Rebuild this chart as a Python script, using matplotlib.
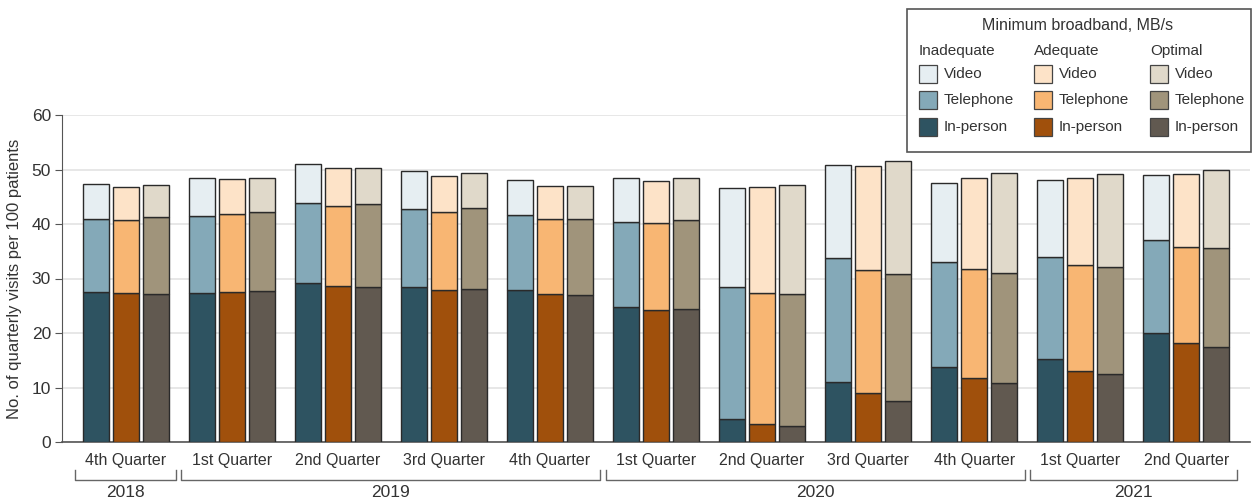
import matplotlib
matplotlib.use("Agg")
import matplotlib.pyplot as plt
from matplotlib.patches import Rectangle
import numpy as np

plt.rcParams['font.family'] = ['Liberation Sans', 'DejaVu Sans']

quarters = ["4th Quarter", "1st Quarter", "2nd Quarter", "3rd Quarter", "4th Quarter",
            "1st Quarter", "2nd Quarter", "3rd Quarter", "4th Quarter",
            "1st Quarter", "2nd Quarter"]
years = ["2018", "2019", "2020", "2021"]
year_counts = [1, 4, 4, 2]

levels = ["Inadequate", "Adequate", "Optimal"]
modes = ["Video", "Telephone", "In-person"]

# cumulative tops: in-person, in-person+telephone, total (incl. video)
inadequate_inperson = [27.5, 27.4, 29.1, 28.4, 27.8, 24.7, 4.2, 11.1, 13.8, 15.3, 20.0]
inadequate_tel_top  = [40.9, 41.5, 43.8, 42.7, 41.6, 40.3, 28.5, 33.8, 33.1, 34.0, 37.0]
inadequate_total    = [47.4, 48.4, 51.1, 49.8, 48.1, 48.4, 46.6, 50.8, 47.5, 48.0, 48.9]

adequate_inperson = [27.3, 27.5, 28.6, 27.9, 27.2, 24.3, 3.3, 8.9, 11.8, 13.0, 18.2]
adequate_tel_top  = [40.8, 41.8, 43.3, 42.2, 40.9, 40.1, 27.4, 31.5, 31.7, 32.4, 35.7]
adequate_total    = [46.8, 48.2, 50.2, 48.8, 46.9, 47.9, 46.8, 50.7, 48.5, 48.5, 49.1]

optimal_inperson = [27.1, 27.7, 28.5, 28.0, 27.0, 24.4, 2.9, 7.6, 10.8, 12.4, 17.5]
optimal_tel_top  = [41.3, 42.2, 43.6, 42.9, 41.0, 40.7, 27.2, 30.8, 31.1, 32.1, 35.6]
optimal_total    = [47.1, 48.5, 50.3, 49.4, 46.9, 48.5, 47.1, 51.5, 49.3, 49.2, 50.0]

data = {
    "Inadequate": (inadequate_inperson, inadequate_tel_top, inadequate_total),
    "Adequate": (adequate_inperson, adequate_tel_top, adequate_total),
    "Optimal": (optimal_inperson, optimal_tel_top, optimal_total),
}

colors = {
    "Inadequate": {"Video": "#e6eef2", "Telephone": "#84a9b8", "In-person": "#2e5361"},
    "Adequate": {"Video": "#fde3c8", "Telephone": "#f8b673", "In-person": "#a0500c"},
    "Optimal": {"Video": "#e0d9ca", "Telephone": "#a0947b", "In-person": "#615950"},
}

W, H = 1252, 501
fig = plt.figure(figsize=(W / 100, H / 100), dpi=100)
ax = fig.add_axes([62 / W, 1 - 442 / H, (1250 - 62) / W, (442 - 115) / H])

x = np.arange(len(quarters))
bw = 0.245
offsets = [-0.283, 0.0, 0.283]
edge = "#2a2a2a"
lw = 1.0

for lvl, off in zip(levels, offsets):
    inp, tel, tot = [np.array(a) for a in data[lvl]]
    c = colors[lvl]
    ax.bar(x + off, inp, bw, color=c["In-person"], edgecolor=edge, linewidth=lw, zorder=3)
    ax.bar(x + off, tel - inp, bw, bottom=inp, color=c["Telephone"], edgecolor=edge, linewidth=lw, zorder=3)
    ax.bar(x + off, tot - tel, bw, bottom=tel, color=c["Video"], edgecolor=edge, linewidth=lw, zorder=3)

ax.set_xlim(-0.6, 10.6)
ax.set_ylim(0, 60)
ax.set_yticks(np.arange(0, 61, 10))
ax.yaxis.grid(True, color="#e3e3e3", linewidth=1.2, zorder=0)
ax.set_axisbelow(True)
for s in ["top", "right"]:
    ax.spines[s].set_visible(False)
ax.spines["left"].set_color("#555555")
ax.spines["bottom"].set_color("#555555")
ax.spines["bottom"].set_linewidth(1.2)
ax.tick_params(axis="y", length=5, color="#555555", labelsize=12.5, labelcolor="#333333", pad=3)
ax.set_xticks(x)
ax.set_xticklabels(quarters, fontsize=11.5, color="#333333")
ax.tick_params(axis="x", length=0, pad=8)
ax.set_ylabel("No. of quarterly visits per 100 patients", fontsize=12, color="#333333", labelpad=7)

# year brackets
trans = ax.get_xaxis_transform()
start = 0
for yr, n in zip(years, year_counts):
    x0 = start - 0.475
    x1 = min(start + n - 1 + 0.475, 10.57)
    yb = -0.115
    yt = -0.085
    ax.plot([x0, x0, x1, x1], [yt, yb, yb, yt], transform=trans, color="#666666",
            linewidth=1.0, clip_on=False)
    ax.text((x0 + x1) / 2, -0.155, yr, transform=trans, ha="center", va="center",
            fontsize=12.5, color="#333333")
    start += n

# legend
def fx(px):
    return px / W

def fy(py):
    return 1 - py / H

fig.patches.append(Rectangle((fx(907), fy(152)), fx(1251) - fx(907), fy(9) - fy(152),
                             transform=fig.transFigure, facecolor="white",
                             edgecolor="#555555", linewidth=1.2, zorder=5))
fig.text(fx(1078), fy(26), "Minimum broadband, MB/s", ha="center", va="center",
         fontsize=11.5, color="#333333", zorder=6)
col_x = [919, 1034, 1150]
row_y = [74, 100, 127]
for lvl, cx in zip(levels, col_x):
    fig.text(fx(cx), fy(51), lvl, ha="left", va="center", fontsize=11, color="#333333", zorder=6)
    for mode, ry in zip(modes, row_y):
        fig.patches.append(Rectangle((fx(cx), fy(ry + 9)), fx(18), 18 / H,
                                     transform=fig.transFigure, facecolor=colors[lvl][mode],
                                     edgecolor="#444444", linewidth=0.9, zorder=6))
        fig.text(fx(cx + 25), fy(ry), mode, ha="left", va="center", fontsize=11,
                 color="#333333", zorder=6)

fig.savefig("out.png", dpi=100)
